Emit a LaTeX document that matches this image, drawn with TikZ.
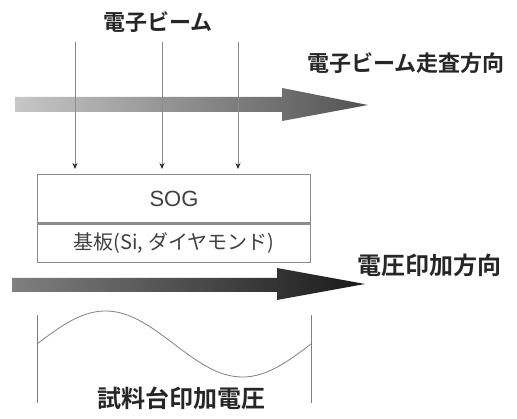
\documentclass[tikz,border=0pt]{standalone}
\usepackage{fontspec}
\setmainfont{Liberation Sans}
\newfontfamily\jp{Noto Sans CJK JP}
\newfontfamily\jpb{Noto Sans CJK JP Bold}
\usetikzlibrary{arrows.meta}
\begin{document}
\begin{tikzpicture}[x=1pt,y=-1pt,
  lbl/.style={font=\jpb\fontsize{22}{22}\selectfont, text=black!85, inner sep=0pt},
  biglbl/.style={lbl, font=\jpb\fontsize{24}{24}\selectfont},
  layer/.style={draw=black!45, line width=1pt, minimum width=273pt, inner sep=0pt},
  beam/.style={draw=black!45, line width=0.8pt, -{Stealth[length=6pt,width=5pt,black!85]}},
  wave/.style={draw=black!50, line width=0.8pt}]
\useasboundingbox (0,0) rectangle (517,419);
% top scan arrow
\shade[left color=black!22, right color=black!68]
  (15,97) -- (282,97) -- (282,88) -- (368,105) -- (282,121) -- (282,112) -- (15,112) -- cycle;
% bottom voltage arrow
\shade[left color=black!50, right color=black!90]
  (12,278) -- (277,278) -- (277,268) -- (365,284) -- (277,300) -- (277,292) -- (12,292) -- cycle;
% labels
\node[lbl] (ebeam) at (158,22) {電子ビーム};
\node[lbl, anchor=west] (scan) at (307,63) {電子ビーム走査方向};
\node[biglbl, anchor=west] (volt) at (357,265) {電圧印加方向};
\node[biglbl] (stage) at (181,398) {試料台印加電圧};
% layers
\node[layer, anchor=north west, minimum height=49pt] (sog) at (37,174)
  {\fontsize{22}{22}\selectfont\color{black!75}SOG};
\node[layer, anchor=north west, minimum height=38pt] (sub) at (37,224)
  {\jp\fontsize{20}{20}\selectfont\color{black!75}基板(Si, ダイヤモンド)};
\draw[black!45, line width=3pt] (sog.south west) -- (sog.south east);
% beams
\coordinate (b1) at (75,42);
\coordinate (b2) at (162,42);
\coordinate (b3) at (238,42);
\draw[beam] (b1) -- ([yshift=5pt]b1 |- sog.north);
\draw[beam] (b2) -- ([yshift=5pt]b2 |- sog.north);
\draw[beam] (b3) -- ([yshift=5pt]b3 |- sog.north);
% voltage waveform
\coordinate (w1) at (37,315);
\coordinate (w2) at (37,403);
\coordinate (w3) at (311,315);
\coordinate (w4) at (311,403);
\draw[wave] (w1) -- (w2);
\draw[wave] (w3) -- (w4);
\draw[wave, domain=37:311, samples=80, smooth] plot (\x, {344-33*sin((\x-37)/274*360)});
\end{tikzpicture}
\end{document}
